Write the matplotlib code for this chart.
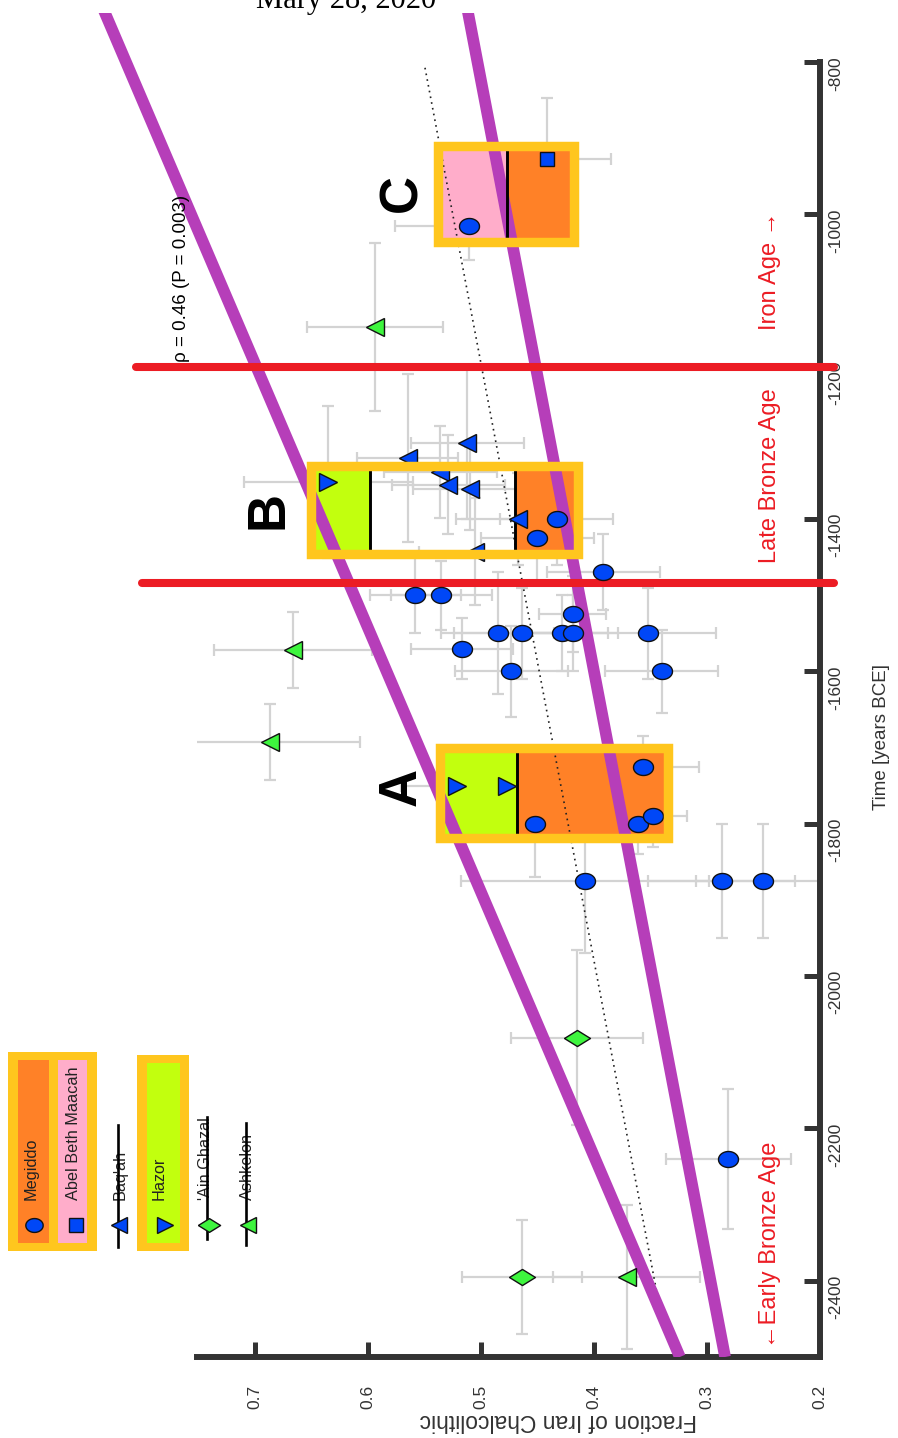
import numpy as np
import matplotlib
matplotlib.use("Agg")
import matplotlib.pyplot as plt
from matplotlib.patches import Rectangle

plt.rcParams['font.family'] = ['Liberation Sans', 'DejaVu Sans']

# ---------------- data ----------------
megiddo_time = [-2240, -1875, -1875, -1875, -1800, -1725, -1800, -1790, -1600, -1600, -1570,
                -1550, -1550, -1550, -1550, -1550, -1525, -1470, -1500, -1500, -1425, -1400, -1015]
megiddo_frac = [0.281, 0.408, 0.287, 0.250, 0.452, 0.357, 0.361, 0.348, 0.340, 0.473, 0.517,
                0.485, 0.464, 0.428, 0.419, 0.352, 0.419, 0.392, 0.558, 0.535, 0.450, 0.433, 0.511]
megiddo_time_err = [92, 95, 75, 75, 70, 40, 40, 40, 55, 60, 40, 80, 60, 50, 50, 60, 50, 50, 50, 45, 60, 60, 45]
megiddo_frac_err = [0.055, 0.11, 0.065, 0.06, 0.04, 0.05, 0.03, 0.03, 0.05, 0.05, 0.045, 0.05,
                    0.06, 0.04, 0.04, 0.06, 0.03, 0.05, 0.04, 0.045, 0.05, 0.05, 0.065]

abel_time = [-927]
abel_frac = [0.442]
abel_time_err = [80]
abel_frac_err = [0.057]

baqah_time = [-1300, -1320, -1338, -1355, -1360, -1400, -1443]
baqah_frac = [0.512, 0.565, 0.536, 0.529, 0.510, 0.467, 0.505]
baqah_time_err = [100, 110, 60, 65, 55, 60, 70]
baqah_frac_err = [0.05, 0.045, 0.05, 0.05, 0.05, 0.055, 0.05]

hazor_time = [-1351, -1750, -1750]
hazor_frac = [0.635, 0.521, 0.477]
hazor_time_err = [100, 50, 50]
hazor_frac_err = [0.075, 0.05, 0.05]

ashkelon_time = [-1148, -1572, -1693, -2395]
ashkelon_frac = [0.594, 0.666, 0.687, 0.371]
ashkelon_time_err = [110, 50, 50, 95]
ashkelon_frac_err = [0.06, 0.07, 0.08, 0.065]

ghazal_time = [-2395, -2081]
ghazal_frac = [0.464, 0.415]
ghazal_time_err = [75, 115]
ghazal_frac_err = [0.053, 0.058]

# regression trend and envelope
trend_time = [-2450, -804]
trend_frac = [0.340, 0.550]
env_time = [-2500, -700]
env_upper_frac = [0.324, 0.843]
env_lower_frac = [0.284, 0.516]

# period boundaries
period_bounds = [-1200, -1484]

# summary boxes: (time range, fraction range, mean lines)
boxA_time = [-1819, -1700]; boxA_frac = [0.3345, 0.5367]; boxA_means = [0.468]
boxB_time = [-1446, -1330]; boxB_frac = [0.414, 0.650]; boxB_means = [0.598, 0.470]
boxC_time = [-1036, -910];  boxC_frac = [0.418, 0.538]; boxC_means = [0.477]

x_ticks = [0.2, 0.3, 0.4, 0.5, 0.6, 0.7]
y_ticks = [-2400, -2200, -2000, -1800, -1600, -1400, -1200, -1000, -800]

# ---------------- style ----------------
BLUE = '#0047F7'
GREEN = '#3EF53E'
GOLD = '#FFC61E'
ORANGE = '#FF8127'
PINK = '#FFADCA'
LIME = '#C2FF0E'
PURPLE = '#B63EB9'
RED = '#EC1C24'
GREY = '#D3D3D3'
DARK = '#333333'

W, H = 898, 1438
fig = plt.figure(figsize=(W / 100, H / 100), dpi=100)
ax = fig.add_axes([197 / W, 81 / H, 623 / W, 1295 / H])
ax.set_xlim(0.7513, 0.2)
ax.set_ylim(-2500, -800)

for s in ['left', 'top']:
    ax.spines[s].set_visible(False)
for s in ['right', 'bottom']:
    ax.spines[s].set_linewidth(4.3)
    ax.spines[s].set_color(DARK)
    ax.spines[s].set_capstyle('projecting')

ax.yaxis.tick_right()
ax.set_xticks(x_ticks)
ax.set_xticklabels([f"{v:.1f}" for v in x_ticks])
ax.set_yticks(y_ticks)
ax.set_yticklabels([str(v) for v in y_ticks])
ax.tick_params(axis='y', direction='in', length=11.5, width=3.6, color=DARK, pad=6,
               labelsize=12.5, labelrotation=90, labelcolor=DARK)
ax.tick_params(axis='x', direction='in', length=11, width=3.6, color=DARK, pad=20,
               labelsize=12.5, labelrotation=90, labelcolor=DARK)

# error bars
eb = dict(fmt='none', ecolor=GREY, elinewidth=1.6, capsize=4.5, capthick=1.6, zorder=1)
for fr, tm, fe, te in [(megiddo_frac, megiddo_time, megiddo_frac_err, megiddo_time_err),
                       (abel_frac, abel_time, abel_frac_err, abel_time_err),
                       (baqah_frac, baqah_time, baqah_frac_err, baqah_time_err),
                       (hazor_frac, hazor_time, hazor_frac_err, hazor_time_err),
                       (ashkelon_frac, ashkelon_time, ashkelon_frac_err, ashkelon_time_err),
                       (ghazal_frac, ghazal_time, ghazal_frac_err, ghazal_time_err)]:
    ax.errorbar(fr, tm, xerr=fe, yerr=te, **eb)

# box fills
def fill(frac_lo, frac_hi, trange, color):
    ax.add_patch(Rectangle((frac_lo, trange[0]), frac_hi - frac_lo, trange[1] - trange[0],
                           facecolor=color, edgecolor='none', zorder=2))

fill(boxA_means[0], boxA_frac[1], boxA_time, LIME)
fill(boxA_frac[0], boxA_means[0], boxA_time, ORANGE)
fill(boxB_means[0], boxB_frac[1], boxB_time, LIME)
fill(boxB_frac[0], boxB_means[1], boxB_time, ORANGE)
fill(boxC_means[0], boxC_frac[1], boxC_time, PINK)
fill(boxC_frac[0], boxC_means[0], boxC_time, ORANGE)

# trend line
ax.plot(trend_frac, trend_time, color='#222222', lw=1.2, ls=(0, (1, 2.5)), zorder=3)

# envelope lines (unclipped beyond axes, clipped to picture region)
clip_rect = Rectangle((0, 81 / H), 1, (H - 13 - 81) / H, transform=fig.transFigure)
for fr in [env_upper_frac, env_lower_frac]:
    ln, = ax.plot(fr, env_time, color=PURPLE, lw=8.4, solid_capstyle='butt', zorder=4)
    ln.set_clip_path(clip_rect)

# period boundaries
for tb, flo in zip(period_bounds, [0.805, 0.800]):
    ax.plot([flo, 0.188], [tb, tb], color=RED, lw=5.8, solid_capstyle='round',
            zorder=4.5, clip_on=False)

# mean lines
for fvals, tr in [(boxA_means, boxA_time), (boxB_means, boxB_time), (boxC_means, boxC_time)]:
    for fv in fvals:
        ax.plot([fv, fv], [tr[0] + 7, tr[1] - 7], color='black', lw=2.1, zorder=5)

# markers
th = np.linspace(0, 2 * np.pi, 60)
ellipse = list(zip(np.cos(th), 0.8 * np.sin(th)))
diamond = [(-1, 0), (0, 0.62), (1, 0), (0, -0.62), (-1, 0)]
mk = dict(ls='none', mec='#111111', mew=1.0, zorder=6)
ax.plot(megiddo_frac, megiddo_time, marker=ellipse, ms=14.4, mfc=BLUE, **mk)
ax.plot(abel_frac, abel_time, marker='s', ms=10.5, mfc=BLUE, **mk)
ax.plot(baqah_frac, baqah_time, marker='<', ms=13, mfc=BLUE, **mk)
ax.plot(hazor_frac, hazor_time, marker='>', ms=13, mfc=BLUE, **mk)
ax.plot(ashkelon_frac, ashkelon_time, marker='<', ms=13, mfc=GREEN, **mk)
ax.plot(ghazal_frac, ghazal_time, marker=diamond, ms=18.7, mfc=GREEN, **mk)

# box frames
for tr, fr in [(boxA_time, boxA_frac), (boxB_time, boxB_frac), (boxC_time, boxC_frac)]:
    ax.add_patch(Rectangle((fr[0], tr[0]), fr[1] - fr[0], tr[1] - tr[0], facecolor='none',
                           edgecolor=GOLD, lw=6.8, joinstyle='miter', zorder=7))

# letters
for lab, fv, tv in [('A', 0.570, -1752), ('B', 0.688, -1388), ('C', 0.570, -972)]:
    ax.text(fv, tv, lab, fontsize=38, fontweight='bold', rotation=90, ha='center', va='center',
            color='black', zorder=8)

# period labels
red_txt = dict(color=RED, fontsize=17, rotation=90, ha='center', va='center', zorder=8,
               family=['Liberation Sans', 'DejaVu Sans'])
ax.text(0.2442, -1074, 'Iron Age \u2192', **red_txt)
ax.text(0.2442, -1343, 'Late Bronze Age', **red_txt)
ax.text(0.2442, -2353, '\u2190Early Bronze Age', **red_txt)

# correlation
ax.text(0.7646, -1194, '\u03c1 = 0.46 (P = 0.003)', fontsize=13.5, rotation=90,
        rotation_mode='anchor', ha='left', va='center', color='black', clip_on=False, zorder=8)

# axis titles
fig.text(882 / W, 1 - 737 / H, 'Time [years BCE]', rotation=90, ha='center', va='center',
         fontsize=13.5, color=DARK)
fig.text(558 / W, 1 - 1420 / H, 'Fraction of Iran Chalcolithic', rotation=180, ha='center',
         va='center', fontsize=16.5, color=DARK)
fig.text(346 / W, 1 - 8 / H, 'Mary 28, 2020', ha='center', va='baseline', fontsize=22,
         family='Liberation Serif', color='black')

# ---------------- legend (pixel overlay) ----------------
ov = fig.add_axes([0, 0, 1, 1], zorder=5)
ov.set_xlim(0, W)
ov.set_ylim(H, 0)
ov.axis('off')
ov.add_patch(Rectangle((8, 1052), 89, 199, facecolor=GOLD, edgecolor='none'))
ov.add_patch(Rectangle((18, 1060), 31, 183, facecolor=ORANGE, edgecolor='none'))
ov.add_patch(Rectangle((58, 1060), 29, 183, facecolor=PINK, edgecolor='none'))
ov.add_patch(Rectangle((137, 1055), 52, 196, facecolor=GOLD, edgecolor='none'))
ov.add_patch(Rectangle((147, 1063), 33, 180, facecolor=LIME, edgecolor='none'))
for xl, y0, y1 in [(118, 1125, 1247), (207, 1117, 1239), (246, 1123, 1245)]:
    ov.plot([xl, xl], [y0, y1], color='black', lw=1.9, zorder=3)
lmk = dict(ls='none', mec='#111111', mew=1.0, zorder=4)
ov.plot([34], [1225], marker=ellipse, ms=12.5, mfc=BLUE, **lmk)
ov.plot([76], [1225], marker='s', ms=9.5, mfc=BLUE, **lmk)
ov.plot([119], [1225], marker='<', ms=12, mfc=BLUE, **lmk)
ov.plot([165], [1225], marker='>', ms=12, mfc=BLUE, **lmk)
ov.plot([209], [1225], marker=diamond, ms=16, mfc=GREEN, **lmk)
ov.plot([248], [1225], marker='<', ms=12, mfc=GREEN, **lmk)
for xl, name in [(31, 'Megiddo'), (73, 'Abel Beth Maacah'), (120, "Baq'ah"), (159, 'Hazor'),
                 (206, "'Ain Ghazal"), (247, 'Ashkelon')]:
    ov.text(xl, 1200, name, rotation=90, rotation_mode='anchor', ha='left', va='center',
            fontsize=11.7, color='#222222', zorder=2)

fig.savefig('out.png', dpi=100)
